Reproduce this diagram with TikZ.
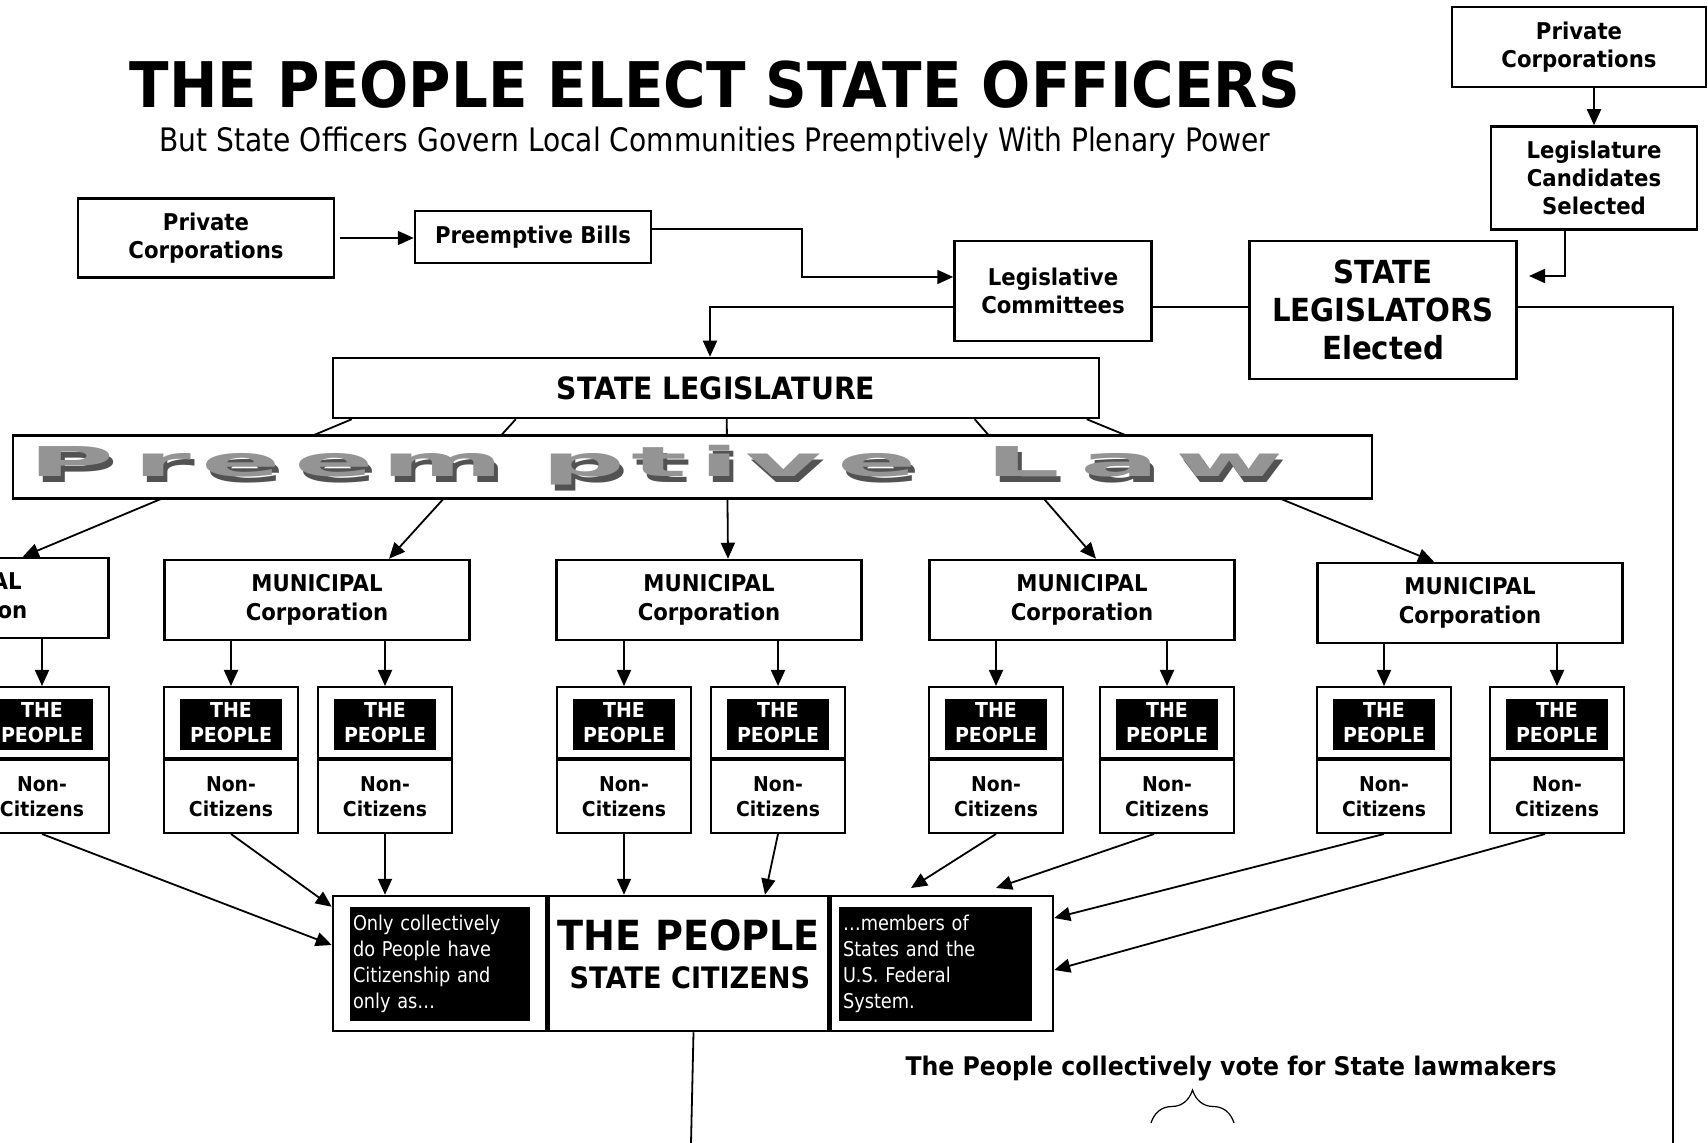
\documentclass[tikz,border=0pt]{standalone}
\usepackage{fontspec}
\setmainfont{DejaVu Sans}[UprightFeatures={FakeStretch=0.87}, BoldFeatures={FakeStretch=0.92}]
\usepackage{tikz}
\usetikzlibrary{arrows.meta}
\usetikzlibrary{positioning}
\usetikzlibrary{decorations.pathreplacing}
\usepackage{xcolor}

\begin{document}
\begin{tikzpicture}[x=0.1mm, y=-0.1mm,
	box/.style={draw, line width=0.25mm, fill=white, align=center, inner sep=0pt},
	boxtxt/.style={font=\fontsize{6.57}{8.1}\selectfont\bfseries},
	muni/.style={box, boxtxt, minimum width=30.5mm, minimum height=8mm},
	ppl/.style={draw, line width=0.2mm, fill=white, minimum width=13.4mm, minimum height=7.1mm, inner sep=0pt, align=center, text=white, font=\fontsize{5.87}{7.1}\selectfont\bfseries,
		path picture={\fill[black] ([shift={(16,12)}]path picture bounding box.north west) rectangle ([shift={(-16,-8)}]path picture bounding box.south east);}},
	nonc/.style={box, line width=0.2mm, minimum width=13.4mm, minimum height=7.3mm, font=\fontsize{5.82}{7.1}\selectfont\bfseries},
	blk/.style={fill=black, text=white, align=left, inner sep=0pt, font=\fontsize{5.8}{7.4}\selectfont},
	pltx/.style={text=black!42, inner sep=0pt, font=\fontsize{11.7}{12}\selectfont\bfseries},
	plsh/.style={text=black!68, inner sep=0pt, font=\fontsize{11.7}{12}\selectfont\bfseries},
	arr/.style={-{Triangle[length=1.6mm, width=1.4mm]}, line width=0.18mm},
	ln/.style={line width=0.18mm}]
	
	\useasboundingbox (0,0) rectangle (1708,1143);
	\clip (0,0) rectangle (1708,1143);
	
	%headline
	\node[font=\fontsize{17.9}{20}\selectfont\bfseries] (title) at (715,85) {THE PEOPLE ELECT STATE OFFICERS};
	\node[font=\fontsize{9.2}{11}\selectfont, anchor=base] (subtitle) at (715,152) {But State Officers Govern Local Communities Preemptively With Plenary Power};
	
	%upper boxes
	\node[box, boxtxt, minimum width=25.6mm, minimum height=7.9mm] (pcl) at (206,238) {Private\\Corporations};
	\node[box, boxtxt, minimum width=23.6mm, minimum height=5.2mm] (pb) at (533,237) {Preemptive Bills};
	\node[box, boxtxt, minimum width=19.7mm, minimum height=10mm] (lc) at (1053,291) {Legislative\\Committees};
	\node[box, font=\fontsize{9.04}{10.7}\selectfont\bfseries, minimum width=26.7mm, minimum height=13.8mm] (sle) at (1383,310) {STATE\\LEGISLATORS\\Elected};
	\node[box, boxtxt, minimum width=25.4mm, minimum height=8mm] (pctr) at (1579,47) {Private\\Corporations};
	\node[box, boxtxt, font=\fontsize{6.57}{8}\selectfont\bfseries, minimum width=20.6mm, minimum height=10.3mm] (lcs) at (1594,178) {Legislature\\Candidates\\Selected};
	\node[box, font=\fontsize{8.75}{10}\selectfont\bfseries, minimum width=76.6mm, minimum height=6mm] (sl) at (716,388) {STATE LEGISLATURE};
	
	%municipal corporations
	\foreach \m/\cx/\cy in {1/-44/598, 2/317/600, 3/709/600, 4/1082/600, 5/1470/603}
		\node[muni] (m\m) at (\cx,\cy) {MUNICIPAL\\Corporation};
	
	%the people and non-citizens
	\foreach \n/\cx in {1/42, 21/231, 22/385, 31/624, 32/778, 41/996, 42/1167, 51/1384, 52/1557} {
		\node[ppl] (p\n) at (\cx,722.5) {THE\\PEOPLE};
		\node[nonc, below=0pt of p\n] (nc\n) {Non-\\Citizens};
	}
	
	%state citizens
	\node[box, minimum width=21.3mm, minimum height=13.5mm] (cl) at (439.5,963.5) {};
	\node[box, minimum width=28mm, minimum height=13.5mm, right=0pt of cl] (cm) {};
	\node[box, minimum width=22.2mm, minimum height=13.5mm, right=0pt of cm] (cr) {};
	\node[blk, minimum width=18mm, minimum height=11.4mm, text width=17.4mm] (bl) at (440,964) {Only collectively\\do People have\\Citizenship and\\only as…};
	\node[blk, minimum width=19.3mm, minimum height=11.4mm, text width=18.5mm] (br) at (935.5,964) {…members of\\States and the\\U.S. Federal\\System.};
	\node[font=\fontsize{11.8}{13}\selectfont\bfseries, anchor=base] (tp) at (689,950) {THE PEOPLE};
	\node[font=\fontsize{8.4}{10}\selectfont\bfseries, anchor=base] (sc) at (690,988) {STATE CITIZENS};
	
	%arrows
	\draw[arr] ([xshift=0.5mm]pcl.east) -- (pcl.east -| pb.west);
	\draw[arr] ([yshift=0.8mm]pb.east) -- ++(150,0) |- ([yshift=1.4mm]lc.west);
	\draw[arr] ([yshift=-1.6mm]lc.west) -| ([xshift=-0.6mm]sl.north);
	\draw[ln] ([yshift=-1.6mm]lc.east) -- ([yshift=-1.6mm]lc.east -| sle.west);
	\coordinate (rb) at (1673,1143);
	\draw[ln] ([yshift=0.3mm]sle.east) -| (rb);
	\draw[arr] (pctr.south -| lcs.north) -- (lcs.north);
	\coordinate (slx) at (1529,276);
	\draw[arr] ([xshift=-2.9mm]lcs.south) |- (slx);
	
	\draw[arr] ([xshift=2mm]sl.south west) -- ([xshift=-8.7mm]m1.north east);
	\draw[arr] ([xshift=18.4mm]sl.south west) -- ([xshift=7.2mm]m2.north);
	\draw[arr] ([xshift=39.5mm]sl.south west) -- ([xshift=1.9mm]m3.north);
	\draw[arr] ([xshift=64.3mm]sl.south west) -- ([xshift=1.4mm]m4.north);
	\draw[arr] ([xshift=75.5mm]sl.south west) -- ([xshift=-3.6mm]m5.north);
	
	\foreach \m/\n in {1/1, 2/21, 2/22, 3/31, 3/32, 4/41, 4/42, 5/51, 5/52}
		\draw[arr] (m\m.south -| p\n) -- (p\n.north);
	
	\coordinate (f1) at (911,888);
	\coordinate (f2) at (996,888);
	\draw[arr] (nc1.south) -- ([yshift=1.85mm]cl.west);
	\draw[arr] (nc21.south) -- ([shift={(0,12)}]cl.north west);
	\draw[arr] (nc22.south) -- (nc22.south |- cl.north);
	\draw[arr] (nc31.south) -- (nc31.south |- cm.north);
	\draw[arr] (nc32.south) -- ([xshift=-1.3mm]nc32.south |- cm.north);
	\draw[arr] (nc41.south) -- (f1);
	\draw[arr] ([xshift=-1.3mm]nc42.south) -- (f2);
	\draw[arr] (nc51.south) -- ([yshift=4.55mm]cr.east);
	\draw[arr] ([xshift=-1.2mm]nc52.south) -- ([yshift=-0.65mm]cr.east);
	
	\coordinate (bot) at (691,1143);
	\draw[ln] ([xshift=0.5mm]cm.south) -- (bot);
	
	%preemptive law banner
	\node[box, minimum width=135.9mm, minimum height=6.3mm] (pl) at (692.5,467) {};
	\foreach \ch/\cx in {P/71, r/162, e/241, e/334, m/443, p/583, t/660, i/720, v/784, e/877, L/1023, a/1120, w/1230} {
		\node[plsh, anchor=base] (plsh-\cx) at (\cx+4,483) {\scalebox{3.1}[1]{\ch}};
		\node[pltx, anchor=base] (pl-\cx) at (\cx,477) {\scalebox{3.1}[1]{\ch}};
	}
	
	%labels
	\node[font=\fontsize{7.3}{9}\selectfont\bfseries, anchor=base] (vote) at (1231,1075) {The People collectively vote for State lawmakers};
	\draw[decorate, decoration={brace, amplitude=3.3mm}, line width=0.12mm] (1151,1123) -- (1234,1123);
	
\end{tikzpicture}
\end{document}
